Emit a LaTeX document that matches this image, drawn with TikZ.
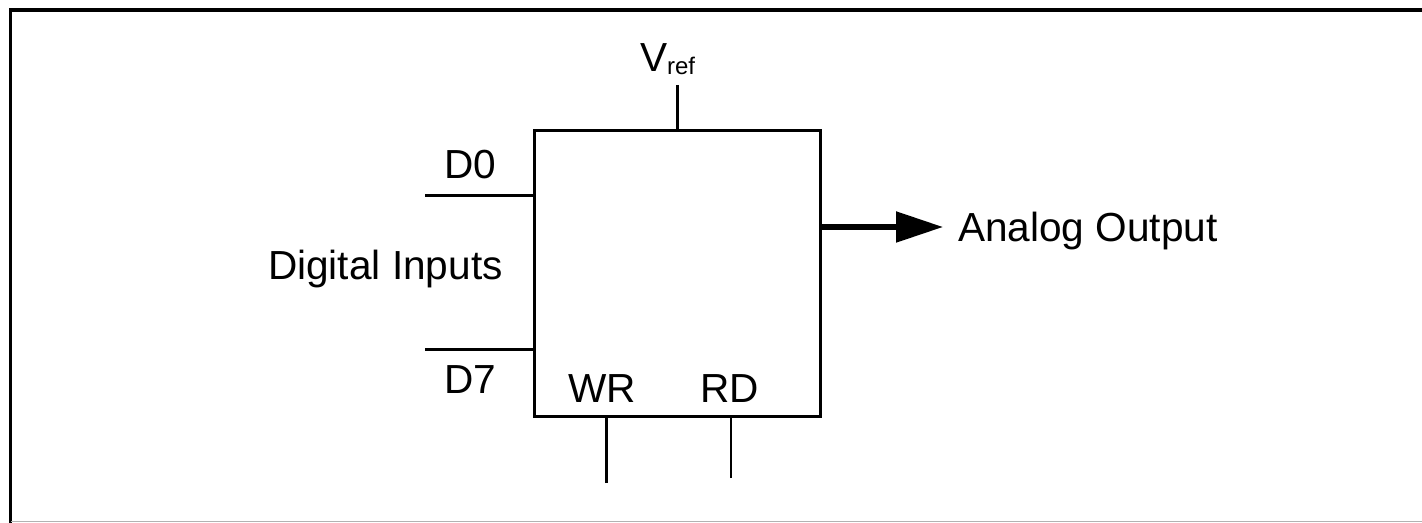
\documentclass[tikz,border=0pt]{standalone}
\usepackage{fontspec}
\setmainfont{Liberation Sans}
\usetikzlibrary{arrows.meta}
\begin{document}
\begin{tikzpicture}[x=0.5pt,y=-0.5pt,
  lbl/.style={inner sep=0pt,outer sep=0pt,font=\fontsize{20.3}{24}\selectfont},
  pin/.style={line width=1.5pt},
  thinpin/.style={line width=0.8pt},
  blk/.style={draw,line width=1.5pt,inner sep=0pt,outer sep=0pt,minimum width=143pt,minimum height=142.5pt},
  outarrow/.style={line width=2.6pt,-{Triangle[length=23.5pt,width=15pt]}}]
\useasboundingbox (0,0) rectangle (1422,523);
% frame
\draw[line width=1.8pt] (1422,10) -- (10.5,10) -- (10.5,523);
\draw[line width=0.8pt,gray!60] (10.5,521.5) -- (1422,521.5);
% block
\node[blk] (dac) at (677,273.5) {};
% coordinates for free ends
\coordinate (vrefend) at (677,85);
\coordinate (d0end) at (425,196);
\coordinate (d7end) at (425,349);
\coordinate (wrend) at (606,483);
\coordinate (rdend) at (731,478);
\coordinate (outend) at (943,227);
% connectors
\draw[pin] (vrefend) -- (vrefend |- dac.north);
\draw[pin] (d0end) -- (d0end -| dac.west);
\draw[pin] (d7end) -- (d7end -| dac.west);
\draw[pin] (wrend) -- (wrend |- dac.south);
\draw[thinpin] (rdend) -- (rdend |- dac.south);
\draw[outarrow] (outend -| dac.east) -- (outend);
% labels
\node[lbl,anchor=base west] (vref) at (640,72) {V\raisebox{-1.5pt}{\fontsize{12}{14}\selectfont ref}};
\node[lbl,anchor=base west] (d0) at (444,179) {D0};
\node[lbl,anchor=base west] (d7) at (444,393) {D7};
\node[lbl,anchor=base west] (dig) at (268,280) {Digital Inputs};
\node[lbl,anchor=base west] (wr) at (568,402) {WR};
\node[lbl,anchor=base west] (rd) at (700,402) {RD};
\node[lbl,anchor=base west] (ao) at (958,242) {Analog Output};
\end{tikzpicture}
\end{document}
